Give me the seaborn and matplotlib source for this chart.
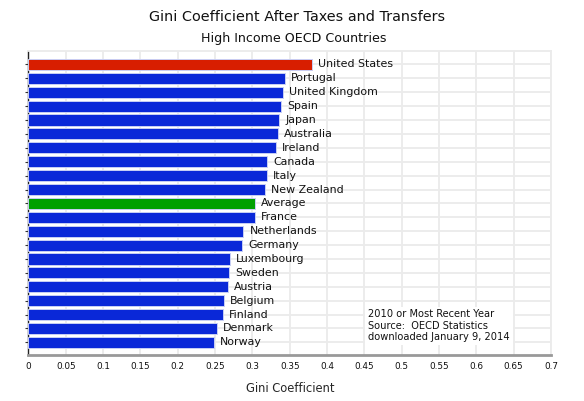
import matplotlib
matplotlib.use("Agg")
import matplotlib.pyplot as plt
import seaborn as sns
import pandas as pd

countries = ["United States", "Portugal", "United Kingdom", "Spain", "Japan",
             "Australia", "Ireland", "Canada", "Italy", "New Zealand", "Average",
             "France", "Netherlands", "Germany", "Luxembourg", "Sweden", "Austria",
             "Belgium", "Finland", "Denmark", "Norway"]
gini = [0.380, 0.344, 0.341, 0.338, 0.336, 0.334, 0.331, 0.320, 0.319, 0.317,
        0.303, 0.303, 0.288, 0.286, 0.270, 0.269, 0.267, 0.262, 0.260, 0.252, 0.249]
groups = ["us"] + ["other"] * 9 + ["avg"] + ["other"] * 10
xticks = [0, 0.05, 0.1, 0.15, 0.2, 0.25, 0.3, 0.35, 0.4, 0.45, 0.5, 0.55, 0.6, 0.65, 0.7]
xtick_labels = ["0", "0.05", "0.1", "0.15", "0.2", "0.25", "0.3", "0.35", "0.4",
                "0.45", "0.5", "0.55", "0.6", "0.65", "0.7"]

df = pd.DataFrame({"country": countries, "gini": gini, "group": groups})
palette = {"us": "#d81e00", "other": "#0a28d8", "avg": "#00a000"}

sns.set_theme(style="white")
plt.rcParams["font.family"] = ["DejaVu Sans"]

fig = plt.figure(figsize=(5.84, 4.01), dpi=100)
ax = fig.add_axes([0.0488, 0.115, 0.8947, 0.759])

grid_c = "#ebebeb"
sns.barplot(data=df, x="gini", y="country", hue="group", palette=palette,
            order=countries, dodge=False, legend=False, width=0.8,
            edgecolor="#c8cff5", linewidth=0.7, saturation=1, ax=ax, zorder=3)

for i, (name, v) in enumerate(zip(countries, gini)):
    ax.text(v + 0.008, i, name, va="center", ha="left", fontsize=7.9,
            color="#111111", zorder=4)

ax.set_xlim(0, 0.7)
ax.set_ylim(20.9, -1)
ax.set_xticks(xticks)
ax.set_xticklabels(xtick_labels, fontsize=6.4)
ax.set_yticks(range(len(countries)))
ax.set_yticklabels([])
ax.set_ylabel("")
ax.set_xlabel("Gini Coefficient", fontsize=8.3, labelpad=8)

ax.grid(True, axis="both", color=grid_c, linewidth=1.3, zorder=0)
ax.set_axisbelow(True)
for s in ["top", "right"]:
    ax.spines[s].set_color(grid_c)
    ax.spines[s].set_linewidth(1.3)
ax.spines["left"].set_color("#222222")
ax.spines["left"].set_linewidth(1.0)
ax.spines["bottom"].set_color("#999999")
ax.spines["bottom"].set_linewidth(2.0)
ax.tick_params(axis="x", direction="in", length=3, width=0.8, color="#333333",
               pad=5, labelcolor="#111111")
ax.tick_params(axis="y", direction="inout", length=4, width=0.8, color="#333333",
               left=True)

ax.text(0.455, 18.8, "2010 or Most Recent Year\nSource:  OECD Statistics\ndownloaded January 9, 2014",
        fontsize=7.1, linespacing=1.15, va="center", ha="left", color="#111111",
        bbox=dict(facecolor="white", edgecolor="none", pad=2), zorder=5)

fig.text(0.508, 0.958, "Gini Coefficient After Taxes and Transfers",
         ha="center", va="center", fontsize=10.4, color="#111111")
fig.text(0.503, 0.903, "High Income OECD Countries",
         ha="center", va="center", fontsize=9.1, color="#111111")

fig.savefig("out.png", dpi=100)
